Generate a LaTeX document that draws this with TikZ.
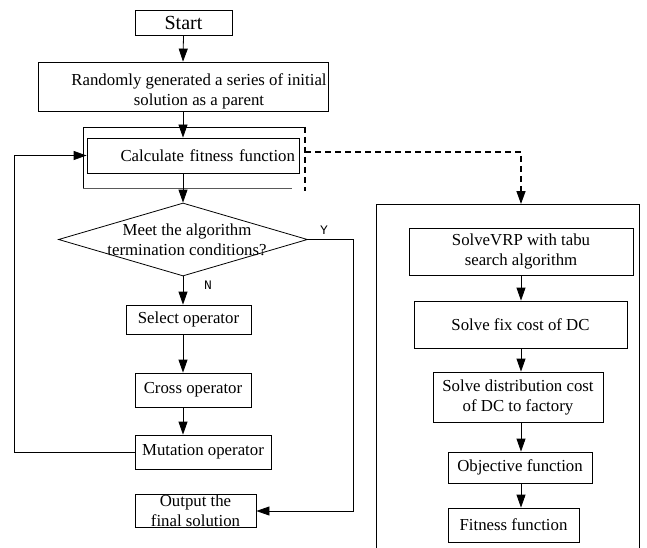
\documentclass[tikz,border=0pt]{standalone}
\usepackage{fontspec}
\setmainfont{Liberation Serif}
\newfontfamily\labfont{Liberation Mono}
\usetikzlibrary{arrows.meta,shapes.geometric}
\begin{document}
\begin{tikzpicture}[x=1pt,y=-1pt,
  every node/.style={font=\fontsize{16.8}{20}\selectfont},
  box/.style={draw,line width=0.8pt,inner sep=0pt,align=center},
  arr/.style={line width=0.8pt,-{Triangle[length=13pt,width=9pt]}},
  ln/.style={line width=0.8pt},
  dsh/.style={line width=1.4pt,dash pattern=on 6pt off 4pt},
  yn/.style={font=\labfont\fontsize{13}{13}\selectfont}]
\useasboundingbox (0,0) rectangle (647,548);
% left column
\node[box,minimum width=97,minimum height=25,font=\fontsize{20}{22}\selectfont] (start) at (183.5,22.5) {Start};
\node[box,minimum width=290,minimum height=49] (rand) at (183,86.5) {};
\node[align=center,inner sep=0pt] (randt) at (199,91) {Randomly generated a series of initial\\solution as a parent};
\node[box,minimum height=35,text width=204,align=right,inner xsep=4pt] (calc) at (193,155.5) {Calculate fitness function};
\node[draw,diamond,line width=0.8pt,minimum width=249,minimum height=73,inner sep=0pt,aspect=3.4] (dec) at (183,239.5) {};
\node[align=center,inner sep=0pt] (dect) at (187,240) {Meet the algorithm\\termination conditions?};
\node[box,minimum width=125,minimum height=29] (sel) at (188.5,319.5) {Select operator};
\node[box,minimum width=116,minimum height=34] (cross) at (193,390) {Cross operator};
\node[box,minimum width=136,minimum height=34] (mut) at (203,452) {Mutation operator};
\node[box,minimum width=121,minimum height=33] (out) at (195.5,511) {Output the\\final solution};
% bracket around calc
\draw[ln] (305,127) -- (83,127) -- (83,188);
\draw[ln,black!65] (83,188) -- (292,188);
\draw[dsh] (305,127) -- (305,191);
% right part
\coordinate (rtop) at (521,204);
\draw[ln] (376,548) -- (376,204) -- (639,204) -- (639,548);
\node[box,minimum width=224,minimum height=47] (vrp) at (521,251.5) {SolveVRP with tabu\\search algorithm};
\node[box,minimum width=213,minimum height=47] (fix) at (520.5,324.5) {Solve fix cost of DC};
\node[box,minimum width=170,minimum height=50] (dist) at (518,397) {Solve distribution cost\\of DC to factory};
\node[box,minimum width=144,minimum height=31] (obj) at (520,467.5) {Objective function};
\node[box,minimum width=131,minimum height=34] (fit) at (513.5,525) {Fitness function};
% connectors left
\draw[arr] (start.south) -- (rand.north);
\draw[arr] (rand.south) -- (rand.south |- calc.north);
\draw[arr] (calc.south -| dec.north) -- (dec.north);
\draw[arr] (dec.south) -- (dec.south |- sel.north);
\draw[arr] (dec.south |- sel.south) -- (dec.south |- cross.north);
\draw[arr] (dec.south |- cross.south) -- (dec.south |- mut.north);
\draw[arr] (mut.west) -- ++(-120,0) |- (calc.west);
\draw[arr] (dec.east) -- ++(45,0) |- (out.east);
\node[yn,inner sep=0pt] (ylab) at (324,230) {Y};
\node[yn,inner sep=0pt] (nlab) at (208,285) {N};
% dashed link
\draw[dsh] (305,152) -- (521,152) -- (rtop);
\draw[line width=1.4pt,-{Triangle[length=13pt,width=9pt]}] (521,190) -- (rtop);
% connectors right
\draw[arr] (vrp.south -| rtop) -- (fix.north -| rtop);
\draw[arr] (fix.south -| rtop) -- (dist.north -| rtop);
\draw[arr] (dist.south -| rtop) -- (obj.north -| rtop);
\draw[arr] (obj.south -| rtop) -- (fit.north -| rtop);
\end{tikzpicture}
\end{document}
